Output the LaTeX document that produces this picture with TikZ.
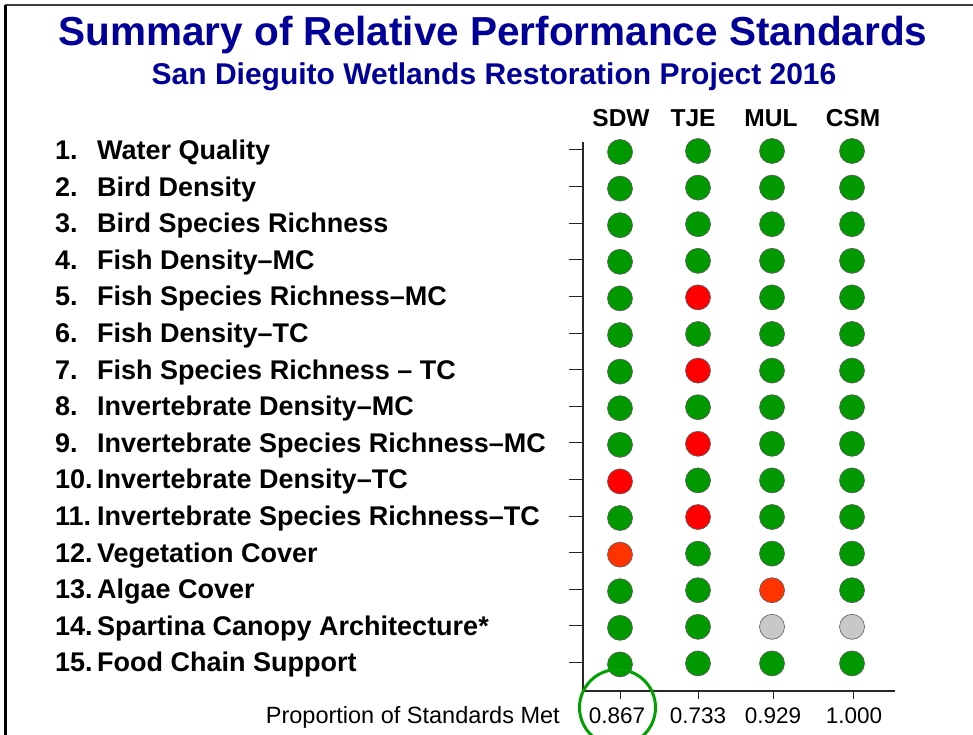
\documentclass[tikz,border=0pt]{standalone}
\usepackage{fontspec}
\setmainfont{Liberation Sans}
\definecolor{ttl}{RGB}{0,0,153}
\definecolor{gdot}{RGB}{0,153,0}
\definecolor{rdot}{RGB}{255,0,0}
\definecolor{odot}{RGB}{255,51,0}
\definecolor{ydot}{RGB}{200,200,200}
\definecolor{ring}{RGB}{0,160,0}
\tikzset{
  item/.style={anchor=base west,inner sep=0,font=\fontsize{27}{27}\selectfont\bfseries},
  hdr/.style={anchor=base,inner sep=0,font=\fontsize{24.5}{24.5}\selectfont\bfseries},
  val/.style={anchor=base,inner sep=0,font=\fontsize{22.5}{22.5}\selectfont},
  dotn/.style={circle,minimum size=25,inner sep=0,draw=black!65,line width=0.6pt},
  axis/.style={line width=1.5pt,black!85},
  tick/.style={line width=1pt,black!85}
}
\begin{document}
\begin{tikzpicture}[x=1pt,y=-1pt]
\useasboundingbox (0,0) rectangle (973,735);
\fill[white] (0,0) rectangle (973,735);
\draw[line width=2pt,black!75] (5,5.5) -- (973,5.5);
\draw[line width=3pt,black] (5.5,5) -- (5.5,735);
\node[anchor=base,inner sep=0,text=ttl,font=\fontsize{40.5}{40.5}\selectfont\bfseries] (title) at (493,46) {Summary of Relative Performance Standards};
\node[anchor=base,inner sep=0,text=ttl,font=\fontsize{30}{30}\selectfont\bfseries] (sub) at (494,85) {San Dieguito Wetlands Restoration Project 2016};
\node[hdr] (hSDW) at (621,127) {SDW};
\node[hdr] (hTJE) at (693,127) {TJE};
\node[hdr] (hMUL) at (771,127) {MUL};
\node[hdr] (hCSM) at (853,127) {CSM};
\foreach \i/\t in {1/Water Quality,2/Bird Density,3/Bird Species Richness,4/Fish Density--MC,5/Fish Species Richness--MC,6/Fish Density--TC,7/Fish Species Richness -- TC,8/Invertebrate Density--MC,9/Invertebrate Species Richness--MC,10/Invertebrate Density--TC,11/Invertebrate Species Richness--TC,12/Vegetation Cover,13/Algae Cover,14/Spartina Canopy Architecture*,15/Food Chain Support}{
  \pgfmathsetmacro{\yy}{150+36.6*(\i-1)}
  \node[item] (n\i) at (55,\yy+9.5) {\i.};
  \node[item] (t\i) at (97,\yy+9.5) {\t};
  \draw[tick] (569,\yy) -- (583,\yy);
}
\foreach \i/\a/\b/\c/\d in {1/gdot/gdot/gdot/gdot,2/gdot/gdot/gdot/gdot,3/gdot/gdot/gdot/gdot,4/gdot/gdot/gdot/gdot,5/gdot/rdot/gdot/gdot,6/gdot/gdot/gdot/gdot,7/gdot/rdot/gdot/gdot,8/gdot/gdot/gdot/gdot,9/gdot/rdot/gdot/gdot,10/rdot/gdot/gdot/gdot,11/gdot/rdot/gdot/gdot,12/odot/gdot/gdot/gdot,13/gdot/gdot/odot/gdot,14/gdot/gdot/ydot/ydot,15/gdot/gdot/gdot/gdot}{
  \pgfmathsetmacro{\yy}{151+36.6*(\i-1)}
  \node[dotn,fill=\a] (a\i) at (620,\yy+1) {};
  \node[dotn,fill=\b] (b\i) at (698,\yy) {};
  \node[dotn,fill=\c] (c\i) at (772,\yy) {};
  \node[dotn,fill=\d] (d\i) at (852,\yy) {};
}
\coordinate (axtop) at (583,142);
\coordinate (axorig) at (583,691);
\coordinate (axright) at (895,691);
\draw[axis] (axtop) -- (axorig) -- (axright);
\foreach \x in {620,698,773,853}{\draw[tick] (\x,691) -- (\x,699);}
\node[anchor=base east,inner sep=0,font=\fontsize{23.5}{23.5}\selectfont] (plab) at (560,723) {Proportion of Standards Met};
\node[val] (v1) at (617,723.5) {0.867};
\node[val] (v2) at (698,723.5) {0.733};
\node[val] (v3) at (773,723.5) {0.929};
\node[val] (v4) at (854,723.5) {1.000};
\node[circle,draw=ring,line width=3pt,minimum size=76,inner sep=0] (hl) at (617.5,707.5) {};
\end{tikzpicture}
\end{document}
